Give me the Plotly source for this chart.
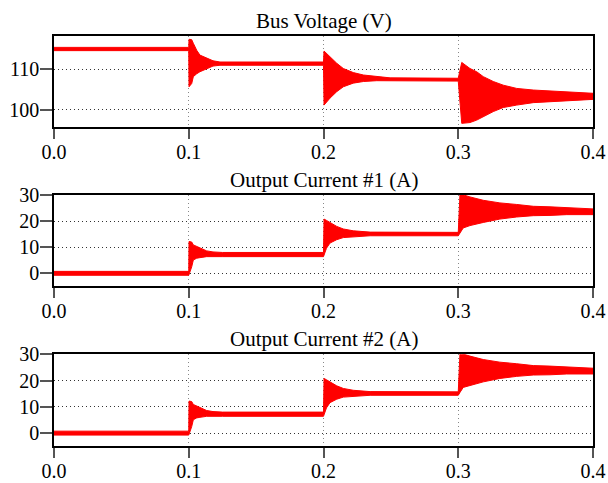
import plotly.graph_objects as go

# ---- Bus voltage envelope (V) ----
bus_t = [0.0, 0.1, 0.1002, 0.1022, 0.1034, 0.1059, 0.1083, 0.1133, 0.1180, 0.1232,
         0.2, 0.2004, 0.2048, 0.2098, 0.2147, 0.2221, 0.2296, 0.2395, 0.2494,
         0.3, 0.3026, 0.3087, 0.3137, 0.3186, 0.3260, 0.3334, 0.3434, 0.3557, 0.3681, 0.3805, 0.4]
bus_upper = [115.4, 115.4, 117.4, 117.3, 116.4, 114.7, 113.5, 112.7, 112.1, 111.8,
             111.8, 114.5, 113.1, 111.5, 110.2, 109.2, 108.6, 108.2, 107.9,
             107.8, 111.7, 110.2, 109.4, 108.2, 107.0, 106.1, 105.3, 104.9, 104.7, 104.4, 104.1]
bus_lower = [114.6, 114.6, 105.7, 106.5, 108.2, 108.9, 109.4, 110.2, 110.8, 111.0,
             111.0, 101.2, 102.9, 104.5, 105.7, 106.6, 107.0, 107.2, 107.1,
             107.1, 96.7, 96.9, 97.5, 98.4, 99.6, 100.6, 101.2, 101.8, 102.0, 102.3, 102.6]

# ---- Output current #1 envelope (A) ----
i1_t = [0.0, 0.1, 0.1002, 0.1022, 0.1034, 0.1059, 0.1083, 0.1133, 0.1180, 0.125,
        0.2, 0.2004, 0.2022, 0.2048, 0.2098, 0.2147, 0.2221, 0.2346,
        0.3, 0.3013, 0.3037, 0.3087, 0.3186, 0.3309, 0.3434, 0.3557, 0.3681, 0.3805, 0.4]
i1_upper = [0.75, 0.75, 12.2, 12.0, 10.9, 10.3, 9.6, 8.6, 8.2, 8.0,
            8.0, 20.8, 20.3, 19.5, 18.0, 17.0, 16.3, 15.8,
            15.7, 30.5, 30.2, 29.3, 28.0, 27.0, 26.4, 25.7, 25.5, 25.1, 24.7]
i1_lower = [-0.75, -0.75, -0.5, 2.5, 5.1, 5.8, 6.0, 6.4, 6.4, 6.4,
            6.4, 6.8, 9.6, 11.6, 12.9, 13.7, 14.1, 14.4,
            14.4, 15.5, 17.4, 18.3, 19.5, 20.8, 21.6, 22.1, 22.2, 22.5, 22.5]

# ---- Output current #2 envelope (A) ----
i2_t = [0.0, 0.1, 0.1002, 0.1022, 0.1034, 0.1059, 0.1083, 0.1133, 0.1180, 0.125,
        0.2, 0.2004, 0.2022, 0.2048, 0.2098, 0.2147, 0.2221, 0.2346,
        0.3, 0.3013, 0.3037, 0.3087, 0.3186, 0.3309, 0.3434, 0.3557, 0.3681, 0.3805, 0.4]
i2_upper = [0.75, 0.75, 12.2, 12.0, 10.9, 10.3, 9.6, 8.6, 8.2, 8.0,
            8.0, 20.8, 20.3, 19.5, 18.0, 17.0, 16.3, 15.8,
            15.7, 30.5, 30.2, 29.3, 28.0, 27.0, 26.4, 25.7, 25.5, 25.1, 24.7]
i2_lower = [-0.75, -0.75, -0.5, 2.5, 5.1, 5.8, 6.0, 6.4, 6.4, 6.4,
            6.4, 6.8, 9.6, 11.6, 12.9, 13.7, 14.1, 14.4,
            14.4, 15.5, 17.4, 18.3, 19.5, 20.8, 21.6, 22.1, 22.2, 22.5, 22.5]

titles = ["Bus Voltage (V)", "Output Current #1 (A)", "Output Current #2 (A)"]
x_ticks = [0.0, 0.1, 0.2, 0.3, 0.4]
bus_ticks = [100, 110]
cur_ticks = [0, 10, 20, 30]

FONT = "Liberation Serif, Times New Roman, serif"
RED = "#ff0000"

fig = go.Figure()
series = [(bus_t, bus_upper, bus_lower), (i1_t, i1_upper, i1_lower), (i2_t, i2_upper, i2_lower)]
for k, (t, up, lo) in enumerate(series):
    ax = "" if k == 0 else str(k + 1)
    fig.add_trace(go.Scatter(
        x=list(t) + list(t)[::-1], y=list(up) + list(lo)[::-1],
        mode="lines", fill="toself", fillcolor=RED,
        line=dict(color=RED, width=1), hoverinfo="skip", showlegend=False,
        xaxis="x" + ax, yaxis="y" + ax))

domains = [[0.778, 1.0], [0.390, 0.612], [0.0, 0.2237]]
ranges = [[95.8, 118.2], [-4.9, 30], [-4.9, 30]]
yticks = [bus_ticks, cur_ticks, cur_ticks]

layout = dict(
    width=608, height=483,
    margin=dict(l=54, r=15, t=36, b=37, autoexpand=False),
    paper_bgcolor="white", plot_bgcolor="white",
    font=dict(family=FONT, size=20, color="black"),
    showlegend=False,
)
annotations = []
for k in range(3):
    ax = "" if k == 0 else str(k + 1)
    layout["xaxis" + ax] = dict(
        domain=[0, 1], anchor="y" + ax, range=[0, 0.4], automargin=False,
        tickvals=x_ticks, ticktext=[f"{v:.1f}" for v in x_ticks],
        ticks="outside", ticklen=10, tickwidth=1.5, tickcolor="#555",
        ticklabelstandoff=-4, ticklabeloverflow="allow",
        showline=True, linecolor="black", linewidth=1.5, mirror=True,
        showgrid=True, gridcolor="#888", griddash="1px,3px", gridwidth=1.2,
        zeroline=False, tickfont=dict(family=FONT, size=20, color="black"),
    )
    layout["yaxis" + ax] = dict(
        domain=domains[k], anchor="x" + ax, range=ranges[k], automargin=False,
        tickvals=yticks[k], ticks="outside", ticklen=12, tickwidth=1.5, tickcolor="#555",
        ticklabelstandoff=-3, ticklabeloverflow="allow",
        showline=True, linecolor="black", linewidth=1.5, mirror=True,
        showgrid=True, gridcolor="#333", griddash="1px,3px", gridwidth=1.2,
        zeroline=False, tickfont=dict(family=FONT, size=20, color="black"),
    )
    annotations.append(dict(
        text=titles[k], xref="paper", yref="paper", x=0.5, y=domains[k][1],
        xanchor="center", yanchor="bottom", yshift=1, showarrow=False,
        font=dict(family=FONT, size=21, color="black")))
layout["annotations"] = annotations
fig.update_layout(**layout)

# remove the page's default body margin so the 608x483 figure fills the window
fig.write_html("out.html", config={"displayModeBar": False},
               post_script="document.body.style.margin='0';document.body.style.overflow='hidden';")
